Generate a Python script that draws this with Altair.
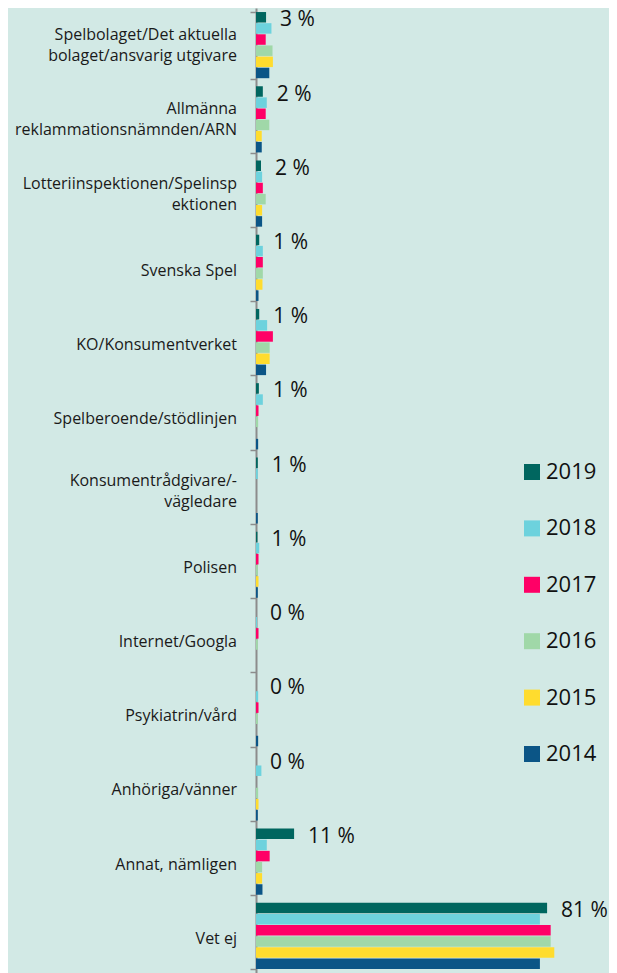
import altair as alt
import pandas as pd

categories = [
    "Spelbolaget/Det aktuella\nbolaget/ansvarig utgivare",
    "Allmänna\nreklammationsnämnden/ARN",
    "Lotteriinspektionen/Spelinsp\nektionen",
    "Svenska Spel",
    "KO/Konsumentverket",
    "Spelberoende/stödlinjen",
    "Konsumentrådgivare/-\nvägledare",
    "Polisen",
    "Internet/Googla",
    "Psykiatrin/vård",
    "Anhöriga/vänner",
    "Annat, nämligen",
    "Vet ej",
]
series = ["2019", "2018", "2017", "2016", "2015", "2014"]
colors = ["#00665f", "#6dd2dd", "#ff0066", "#a0d8a8", "#ffdc2e", "#0b5586"]

v2019 = [2.8, 1.9, 1.4, 0.9, 0.9, 0.8, 0.5, 0.4, 0.0, 0.0, 0.0, 10.6, 81]
v2018 = [4.3, 3.0, 1.7, 1.9, 3.1, 1.9, 0.5, 0.9, 0.3, 0.6, 1.5, 3.0, 79]
v2017 = [2.7, 2.7, 1.9, 1.9, 4.7, 0.7, 0.0, 0.7, 0.7, 0.7, 0.0, 3.8, 82]
v2016 = [4.6, 3.7, 2.7, 1.9, 3.8, 0.6, 0.0, 0.5, 0.5, 0.5, 0.6, 1.7, 82]
v2015 = [4.7, 1.6, 1.7, 1.8, 3.8, 0.0, 0.0, 0.7, 0.0, 0.0, 0.7, 1.7, 83]
v2014 = [3.7, 1.6, 1.7, 0.7, 2.8, 0.6, 0.5, 0.5, 0.0, 0.6, 0.5, 1.8, 79]
labels2019 = [3, 2, 2, 1, 1, 1, 1, 1, 0, 0, 0, 11, 81]

values = {"2019": v2019, "2018": v2018, "2017": v2017,
          "2016": v2016, "2015": v2015, "2014": v2014}

rows = []
for s in series:
    for c, v in zip(categories, values[s]):
        rows.append({"cat": c, "series": s, "value": v})
df = pd.DataFrame(rows)

lab = pd.DataFrame({"cat": categories, "series": "2019", "value": v2019,
                    "txt": [f"{l} %" for l in labels2019]})

catdf = pd.DataFrame({"cat": categories,
                      "multi": ["\n" in c for c in categories]})

BG = "#d2e9e5"
FONT = "Open Sans"

y_scale = alt.Scale(paddingInner=0.1, paddingOuter=0.05)
y_enc = alt.Y("cat:N", sort=categories, scale=y_scale,
              axis=alt.Axis(title=None, labels=False,
                            tickBand="extent", tickSize=6, tickColor="#8c8c8c",
                            tickWidth=1.5, domainColor="#8c8c8c", domainWidth=2,
                            grid=False))
yoff = alt.YOffset("series:N", sort=series,
                   scale=alt.Scale(domain=series, paddingInner=0, paddingOuter=0))
x_enc = alt.X("value:Q", scale=alt.Scale(domain=[0, 96], nice=False, zero=True),
              axis=None)

bars = alt.Chart(df).mark_bar(size=10.5).encode(
    y=y_enc, yOffset=yoff, x=x_enc,
    color=alt.Color("series:N", sort=series,
                    scale=alt.Scale(domain=series, range=colors),
                    legend=alt.Legend(title=None, orient="none", legendX=265, legendY=453,
                                      symbolType="square", symbolSize=256,
                                      symbolStrokeWidth=0, labelFont=FONT,
                                      labelFontSize=22, labelColor="#111111",
                                      rowPadding=34.4, labelOffset=3, padding=0)),
)

texts = alt.Chart(lab).mark_text(align="left", baseline="middle", dx=14, dy=3,
                                 font=FONT, fontSize=21, color="#111111").encode(
    y=alt.Y("cat:N", sort=categories), yOffset=yoff, x=x_enc, text="txt:N"
)

single = alt.Chart(catdf).transform_filter("!datum.multi").mark_text(
    align="right", baseline="middle", dy=3, font=FONT, fontSize=16,
    color="#1a1a1a", lineBreak="\n", lineHeight=21).encode(
    y=alt.Y("cat:N", sort=categories), x=alt.value(-19), text="cat:N")

multi = alt.Chart(catdf).transform_filter("datum.multi").mark_text(
    align="right", baseline="middle", dy=-10, font=FONT, fontSize=16,
    color="#1a1a1a", lineBreak="\n", lineHeight=21).encode(
    y=alt.Y("cat:N", sort=categories), x=alt.value(-19), text="cat:N")

chart = alt.layer(bars, texts, single, multi).properties(
    width=345, height=965,
    autosize=alt.AutoSizeParams(type="none"),
    padding={"left": 248, "top": 0, "right": 8, "bottom": 0},
    background=BG,
).configure_view(stroke=None, fill=BG)

chart.save("out.html", embed_options={"renderer": "svg", "actions": False})
